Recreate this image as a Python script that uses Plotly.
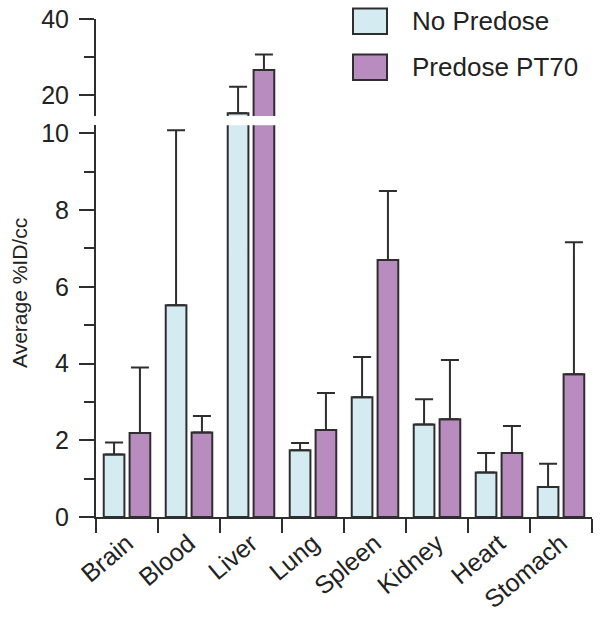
import plotly.graph_objects as go

categories = ["Brain", "Blood", "Liver", "Lung", "Spleen", "Kidney", "Heart", "Stomach"]
no_predose = [1.63, 5.52, 15.3, 1.74, 3.12, 2.41, 1.16, 0.78]
no_predose_err = [0.31, 4.56, 6.9, 0.19, 1.05, 0.66, 0.51, 0.61]
predose_pt70 = [2.19, 2.20, 26.6, 2.27, 6.70, 2.55, 1.67, 3.72]
predose_pt70_err = [1.71, 0.43, 4.1, 0.96, 1.80, 1.54, 0.70, 3.44]
series_names = ["No Predose", "Predose PT70"]

c_np = "#d5ebf2"
c_p = "#b98cc0"
edge = "#2e2e2e"
font_family = "Liberation Sans, Arial, sans-serif"

fig = go.Figure()

def add_bars(vals, errs, color, name, yaxis):
    fig.add_trace(go.Bar(
        x=categories, y=vals, name=name, yaxis=yaxis, xaxis="x",
        marker=dict(color=color, line=dict(color=edge, width=2)),
        error_y=dict(type="data", symmetric=False, array=errs,
                     arrayminus=[0] * len(errs), color=edge, thickness=2, width=9),
        showlegend=False, hoverinfo="skip",
    ))

for ax in ["y", "y2"]:
    add_bars(no_predose, no_predose_err, c_np, series_names[0], ax)
    add_bars(predose_pt70, predose_pt70_err, c_p, series_names[1], ax)

tickfont = dict(family=font_family, size=25, color="#222")

fig.update_layout(
    width=602, height=618,
    margin=dict(l=96, r=10, t=19, b=101, autoexpand=False),
    paper_bgcolor="white", plot_bgcolor="white",
    barmode="group", bargap=0.166, bargroupgap=0.2,
    font=dict(family=font_family, color="#222"),
    xaxis=dict(
        anchor="y", showline=True, linecolor=edge, linewidth=2,
        ticks="outside", ticklen=14, tickwidth=2, tickcolor=edge,
        tickson="boundaries", tickangle=-40, tickfont=tickfont,
        showgrid=False, zeroline=False, automargin=False,
    ),
    yaxis=dict(
        domain=[0, 0.7865], range=[0, 10.21], anchor="x",
        showline=True, linecolor=edge, linewidth=2,
        tickvals=[0, 2, 4, 6, 8, 10], ticks="outside", ticklen=15, tickwidth=2,
        tickcolor=edge, tickfont=tickfont, showgrid=False, zeroline=False,
        automargin=False, ticklabelstandoff=5,
        minor=dict(tickvals=[1, 3, 5, 7, 9], ticks="outside", ticklen=10,
                   tickwidth=2, tickcolor=edge, showgrid=False),
    ),
    yaxis2=dict(
        domain=[0.805, 1], range=[14.53, 40], anchor="x",
        showline=True, linecolor=edge, linewidth=2,
        tickvals=[20, 40], ticks="outside", ticklen=15, tickwidth=2,
        tickcolor=edge, tickfont=tickfont, showgrid=False, zeroline=False,
        automargin=False, ticklabelstandoff=5,
        minor=dict(tickvals=[30], ticks="outside", ticklen=10,
                   tickwidth=2, tickcolor=edge, showgrid=False),
    ),
)

# Y axis title
fig.add_annotation(
    text="Average %ID/cc", xref="paper", yref="paper",
    x=(19 - 96) / 496, y=(517 - 293) / 498, textangle=-90, showarrow=False,
    xanchor="center", yanchor="middle",
    font=dict(family=font_family, size=21, color="#222"),
)

# Custom legend
for i, (label, color) in enumerate([(series_names[0], c_np), (series_names[1], c_p)]):
    top_px = 8.5 + i * 46
    y0 = (618 - 101 - (top_px + 25.5)) / 498
    y1 = (618 - 101 - top_px) / 498
    x0 = (353 - 96) / 496
    x1 = (387 - 96) / 496
    fig.add_shape(type="rect", xref="paper", yref="paper", x0=x0, x1=x1, y0=y0, y1=y1,
                  fillcolor=color, line=dict(color=edge, width=2))
    fig.add_annotation(text=label, xref="paper", yref="paper",
                       x=(410 - 96) / 496, y=(y0 + y1) / 2, xanchor="left", yanchor="middle",
                       showarrow=False, font=dict(family=font_family, size=26, color="#222"))

fig.write_html(
    "out.html",
    config={"displayModeBar": False, "staticPlot": True},
    post_script="document.body.style.margin='0';document.body.style.overflow='hidden';",
)
